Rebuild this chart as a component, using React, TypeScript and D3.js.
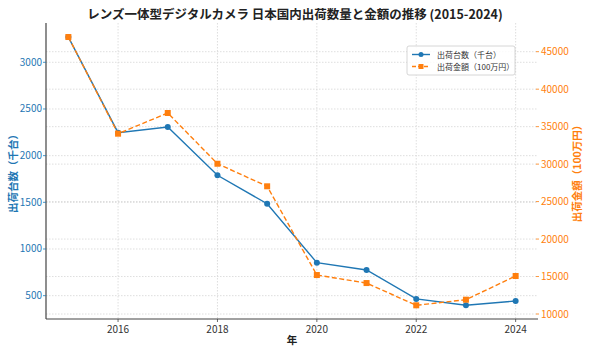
import React from "react";
import * as d3 from "d3";

const years = [2015, 2016, 2017, 2018, 2019, 2020, 2021, 2022, 2023, 2024];
const units = [3270, 2246, 2307, 1790, 1485, 853, 775, 465, 397, 443];
const amounts = [46960, 34060, 36820, 30050, 27040, 15200, 14130, 11160, 11910, 15070];
const xTicks = [2016, 2018, 2020, 2022, 2024];
const leftTicks = [500, 1000, 1500, 2000, 2500, 3000];
const rightTicks = [10000, 15000, 20000, 25000, 30000, 35000, 40000, 45000];

const W = 590, H = 354;
const M = { left: 46, right: 538, top: 23, bottom: 319 };
const BLUE = "#1f77b4";
const ORANGE = "#ff7f0e";
const FONT = "'Noto Sans CJK JP', 'Noto Sans', sans-serif";

export default function App() {
  const x = d3.scaleLinear().domain([2014.55, 2024.45]).range([M.left, M.right]);
  const yL = d3.scaleLinear().domain([250, 3421]).range([M.bottom, M.top]);
  const yR = d3.scaleLinear().domain([9333, 48830]).range([M.bottom, M.top]);
  const lineL = d3.line<number>().x((_, i) => x(years[i])).y((d) => yL(d));
  const lineR = d3.line<number>().x((_, i) => x(years[i])).y((d) => yR(d));
  const grid = "#d6d6d6";
  return (
    <svg width={W} height={H} style={{ position: "absolute", left: 0, top: 0, background: "#fff" }} fontFamily={FONT}>
      <rect width={W} height={H} fill="#fff" />
      <text x={295} y={19} textAnchor="middle" fontSize={12.5} fontWeight="bold" fill="#222">
        レンズ一体型デジタルカメラ 日本国内出荷数量と金額の推移 (2015-2024)
      </text>
      {/* grids */}
      {xTicks.map((t) => (
        <line key={"gx" + t} x1={x(t)} x2={x(t)} y1={M.top} y2={M.bottom} stroke={grid} strokeWidth={0.8} strokeDasharray="1.5,1.5" />
      ))}
      {leftTicks.map((t) => (
        <line key={"gl" + t} x1={M.left} x2={M.right} y1={yL(t)} y2={yL(t)} stroke={grid} strokeWidth={0.8} strokeDasharray="1.5,1.5" />
      ))}
      {rightTicks.map((t) => (
        <line key={"gr" + t} x1={M.left} x2={M.right} y1={yR(t)} y2={yR(t)} stroke={grid} strokeWidth={0.8} strokeDasharray="1.5,1.5" />
      ))}
      {/* spines */}
      <line x1={M.left} x2={M.left} y1={M.top} y2={M.bottom} stroke="#444" strokeWidth={1.2} />
      <line x1={M.left} x2={M.right} y1={M.bottom} y2={M.bottom} stroke="#444" strokeWidth={1.2} />
      {/* x ticks */}
      {xTicks.map((t) => (
        <g key={"xt" + t}>
          <line x1={x(t)} x2={x(t)} y1={M.bottom} y2={M.bottom + 3} stroke="#444" strokeWidth={0.8} />
          <text x={x(t)} y={M.bottom + 14} textAnchor="middle" fontSize={10} fill="#333">{t}</text>
        </g>
      ))}
      <text x={292} y={344} textAnchor="middle" fontSize={10.5} fontWeight="bold" fill="#222">年</text>
      {/* left ticks */}
      {leftTicks.map((t) => (
        <g key={"lt" + t}>
          <line x1={M.left - 3} x2={M.left} y1={yL(t)} y2={yL(t)} stroke={BLUE} strokeWidth={0.8} />
          <text x={M.left - 4} y={yL(t) + 3.5} textAnchor="end" fontSize={10} fill={BLUE}>{t}</text>
        </g>
      ))}
      <text transform={`translate(17,${(M.top + M.bottom) / 2}) rotate(-90)`} textAnchor="middle" fontSize={10.5} fontWeight="bold" fill={BLUE}>
        出荷台数（千台）
      </text>
      {/* right ticks */}
      {rightTicks.map((t) => (
        <g key={"rt" + t}>
          <line x1={M.right - 2} x2={M.right + 1} y1={yR(t)} y2={yR(t)} stroke={ORANGE} strokeWidth={0.8} />
          <text x={M.right + 3} y={yR(t) + 3.5} textAnchor="start" fontSize={10} fill={ORANGE}>{t}</text>
        </g>
      ))}
      <text transform={`translate(581,${(M.top + M.bottom) / 2}) rotate(-90)`} textAnchor="middle" fontSize={10.5} fontWeight="bold" fill={ORANGE}>
        出荷金額（100万円）
      </text>
      {/* lines */}
      <path d={lineL(units) || ""} fill="none" stroke={BLUE} strokeWidth={1.4} />
      {units.map((d, i) => (
        <circle key={"c" + i} cx={x(years[i])} cy={yL(d)} r={3} fill={BLUE} />
      ))}
      <path d={lineR(amounts) || ""} fill="none" stroke={ORANGE} strokeWidth={1.4} strokeDasharray="5,2.5" />
      {amounts.map((d, i) => (
        <rect key={"s" + i} x={x(years[i]) - 3} y={yR(d) - 3} width={6} height={6} fill={ORANGE} />
      ))}
      {/* legend */}
      <g transform="translate(407,46)">
        <rect x={0} y={0} width={108} height={29} rx={2} fill="#fff" fillOpacity={0.85} stroke="#ccc" strokeWidth={0.8} />
        <line x1={5} x2={23} y1={8.5} y2={8.5} stroke={BLUE} strokeWidth={1.4} />
        <circle cx={14} cy={8.5} r={2.5} fill={BLUE} />
        <text x={30} y={11.5} fontSize={8} fill="#333">出荷台数（千台）</text>
        <line x1={5} x2={23} y1={20.5} y2={20.5} stroke={ORANGE} strokeWidth={1.4} strokeDasharray="4,2" />
        <rect x={11.5} y={18} width={5} height={5} fill={ORANGE} />
        <text x={30} y={23.5} fontSize={8} fill="#333">出荷金額（100万円）</text>
      </g>
    </svg>
  );
}
